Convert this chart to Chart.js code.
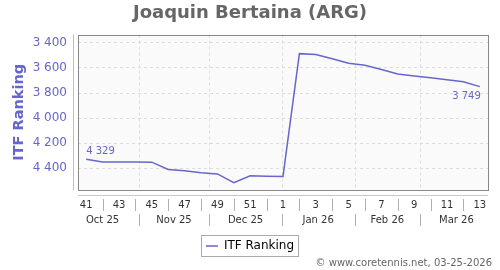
<!DOCTYPE html>
<html>
<head>
<meta charset="utf-8">
<script src="https://cdn.jsdelivr.net/npm/chart.js@4/dist/chart.umd.min.js"></script>
<style>
  html, body { margin: 0; padding: 0; background: #fff; }
  #wrap { width: 500px; height: 270px; }
</style>
</head>
<body>
<div id="wrap"><canvas id="rankChart" width="500" height="270"></canvas></div>
<script>
// weekly ITF ranking, week 41 of 2025 to week 13 of 2026
const weeks = ["41","42","43","44","45","46","47","48","49","50","51","52",
               "1","2","3","4","5","6","7","8","9","10","11","12","13"];
const ranking = [4329, 4350, 4350, 4350, 4352, 4410, 4420, 4436, 4446, 4516, 4460, 4464, 4466,
                 3486, 3492, 3526, 3562, 3578, 3612, 3648, 3664, 3678, 3694, 3710, 3749];
const yTicks = [3400, 3600, 3800, 4000, 4200, 4400];
const monthLabels = ["Oct 25", "Nov 25", "Dec 25", "Jan 26", "Feb 26", "Mar 26"];
// month starts, in week-index units (1st of each month)
const monthEdges = [-1.21, 3.21, 7.5, 11.93, 16.36, 20.36, 24.79];

const FONT = "'DejaVu Sans', sans-serif";
const BLUE = "#6666cc";

function fmt(v) {
    return String(v).replace(/\B(?=(\d{3})+(?!\d))/g, " ");
}

const decorPlugin = {
    id: "decor",
    afterLayout(chart) {
        // title and legend are centred on the whole canvas, not on the padded box
        [chart.titleBlock, chart.legend].forEach(b => {
            if (!b) return;
            b.left += 6;
            b.right += 6;
        });
    },
    beforeDraw(chart) {
        const ctx = chart.ctx;
        const a = chart.chartArea;
        ctx.save();
        ctx.fillStyle = "#fafafa";
        ctx.fillRect(a.left, a.top, a.right - a.left, a.bottom - a.top);
        ctx.restore();
    },
    beforeDatasetsDraw(chart) {
        const ctx = chart.ctx;
        const a = chart.chartArea;
        const x = chart.scales.x;
        ctx.save();
        // month grid lines
        ctx.strokeStyle = "#dddddd";
        ctx.lineWidth = 1;
        ctx.setLineDash([3, 3]);
        monthEdges.forEach(m => {
            const px = Math.round(x.getPixelForValue(m)) + 0.5;
            if (px <= a.left + 1 || px >= a.right - 1) return;
            ctx.beginPath();
            ctx.moveTo(px, a.top);
            ctx.lineTo(px, a.bottom);
            ctx.stroke();
        });
        ctx.setLineDash([]);
        // plot frame
        ctx.strokeStyle = "#888888";
        ctx.strokeRect(Math.round(a.left) + 0.5, Math.round(a.top) + 0.5,
                       Math.round(a.right - a.left), Math.round(a.bottom - a.top));
        ctx.restore();
    },
    afterDatasetsDraw(chart) {
        const ctx = chart.ctx;
        const meta = chart.getDatasetMeta(0);
        const first = meta.data[0];
        const last = meta.data[meta.data.length - 1];
        ctx.save();
        ctx.font = "10px " + FONT;
        ctx.fillStyle = BLUE;
        ctx.textBaseline = "middle";
        ctx.textAlign = "left";
        ctx.fillText(fmt(ranking[0]), first.x, first.y - 8);
        ctx.textAlign = "right";
        ctx.fillText(fmt(ranking[ranking.length - 1]), last.x + 1, last.y + 10);
        ctx.restore();
    },
    afterDraw(chart) {
        const ctx = chart.ctx;
        const a = chart.chartArea;
        const x = chart.scales.x;
        ctx.save();
        // y axis line
        ctx.strokeStyle = "#b8b8e6";
        ctx.lineWidth = 1;
        ctx.beginPath();
        ctx.moveTo(a.left - 4.5, a.top);
        ctx.lineTo(a.left - 4.5, a.bottom);
        ctx.stroke();
        // x axis line
        ctx.strokeStyle = "#c8c8c8";
        ctx.beginPath();
        ctx.moveTo(a.left, a.bottom + 5.5);
        ctx.lineTo(a.right, a.bottom + 5.5);
        ctx.stroke();
        // week separators
        ctx.strokeStyle = "#b0b0b0";
        weeks.forEach((w, i) => {
            if (i % 2 === 0) return;
            const px = Math.round(x.getPixelForValue(i)) + 0.5;
            ctx.beginPath();
            ctx.moveTo(px, a.bottom + 9);
            ctx.lineTo(px, a.bottom + 21);
            ctx.stroke();
        });
        // month separators and labels
        monthEdges.forEach(m => {
            const px = Math.round(x.getPixelForValue(m)) + 0.5;
            if (px > a.left + 1 && px < a.right - 1) {
                ctx.beginPath();
                ctx.moveTo(px, a.bottom + 24);
                ctx.lineTo(px, a.bottom + 36);
                ctx.stroke();
            }
        });
        ctx.font = "10px " + FONT;
        ctx.fillStyle = "#333333";
        ctx.textAlign = "center";
        ctx.textBaseline = "middle";
        monthLabels.forEach((lab, i) => {
            const cx = (x.getPixelForValue(monthEdges[i]) + x.getPixelForValue(monthEdges[i + 1])) / 2;
            ctx.fillText(lab, cx, a.bottom + 30.5);
        });
        // legend frame
        const hb = chart.legend.legendHitBoxes[0];
        if (hb) {
            ctx.strokeStyle = "#aaaaaa";
            ctx.strokeRect(Math.round(hb.left) - 4.5, Math.round(hb.top) - 4.5,
                           Math.round(hb.width) + 9, Math.round(hb.height) + 9);
        }
        // credits
        ctx.font = "10px " + FONT;
        ctx.fillStyle = "#666666";
        ctx.textAlign = "right";
        ctx.fillText("\u00a9 www.coretennis.net, 03-25-2026", 492, 263);
        ctx.restore();
    }
};

const chart = new Chart(document.getElementById("rankChart"), {
    type: "line",
    data: {
        labels: weeks,
        datasets: [{
            label: "ITF Ranking",
            data: ranking,
            borderColor: BLUE,
            backgroundColor: BLUE,
            borderWidth: 1.5,
            pointRadius: 0,
            tension: 0,
            fill: false
        }]
    },
    options: {
        responsive: false,
        animation: false,
        layout: { padding: { left: 0, right: 12, top: 0, bottom: 8 } },
        plugins: {
            title: {
                display: true,
                text: "Joaquin Bertaina (ARG)",
                color: "#666666",
                font: { family: FONT, size: 18, weight: "bold" },
                padding: { top: 3, bottom: 10 }
            },
            legend: {
                position: "bottom",
                labels: {
                    usePointStyle: true,
                    pointStyle: "line",
                    pointStyleWidth: 12,
                    color: "#000000",
                    font: { family: FONT, size: 12 },
                    padding: 10
                }
            },
            tooltip: { enabled: false }
        },
        scales: {
            x: {
                type: "category",
                offset: true,
                grid: { display: false, drawTicks: false },
                border: { display: false },
                ticks: {
                    autoSkip: false,
                    maxRotation: 0,
                    color: "#333333",
                    font: { family: FONT, size: 10 },
                    padding: 9,
                    callback: (v, i) => (i % 2 === 0 ? weeks[i] : "")
                },
                afterFit: s => { s.height = 40; }
            },
            y: {
                reverse: true,
                min: 3334,
                max: 4574,
                afterFit: s => { s.width = 78; },
                afterBuildTicks: s => { s.ticks = yTicks.map(v => ({ value: v })); },
                grid: { color: "#dddddd", drawTicks: false },
                border: { display: false, dash: [3, 3] },
                ticks: {
                    color: BLUE,
                    font: { family: FONT, size: 12 },
                    padding: 11,
                    callback: v => fmt(v)
                },
                title: {
                    display: true,
                    text: "ITF Ranking",
                    color: BLUE,
                    font: { family: FONT, size: 14.5, weight: "bold" },
                    padding: { top: 11, bottom: 0 }
                }
            }
        }
    },
    plugins: [decorPlugin]
});
</script>
</body>
</html>
